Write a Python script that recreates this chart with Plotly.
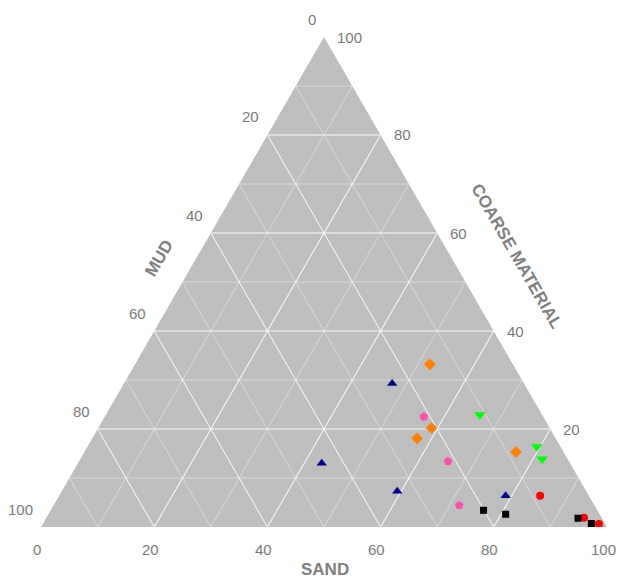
import plotly.graph_objects as go

# ---- data (percent): coarse material (a), mud (b), sand (c) ----
red_coarse = [6.4, 1.9, 0.6]
red_mud = [8.6, 3.1, 1.1]
red_sand = [85.0, 95.0, 98.3]

black_coarse = [3.4, 2.6, 1.8, 0.7]
black_mud = [20.1, 16.6, 4.2, 2.4]
black_sand = [76.5, 80.8, 94.0, 96.9]

navy_coarse = [29.3, 13.0, 7.3, 6.4]
navy_mud = [23.3, 43.9, 33.4, 14.7]
navy_sand = [47.4, 43.1, 59.3, 78.9]

green_coarse = [22.9, 16.4, 13.9]
green_mud = [11.0, 4.2, 4.5]
green_sand = [66.1, 79.4, 81.6]

orange_coarse = [33.2, 20.2, 18.1, 15.3]
orange_mud = [14.7, 20.9, 24.5, 8.4]
orange_sand = [52.1, 58.9, 57.4, 76.3]

pink_coarse = [22.5, 13.4, 4.4]
pink_mud = [21.1, 21.4, 23.9]
pink_sand = [56.4, 65.2, 71.7]

tick_values = [0, 20, 40, 60, 80, 100]
tick_labels = ["0", "20", "40", "60", "80", "100"]
minor_values = [10, 30, 50, 70, 90]

FONT = "Liberation Sans, Arial, sans-serif"
LABEL_COLOR = "#7a7a7a"

fig = go.Figure()

# minor grid lines (every 10, between the major 20s)
for v in minor_values:
    for a, b, c in [([v, v], [100 - v, 0], [0, 100 - v]),
                    ([100 - v, 0], [v, v], [0, 100 - v]),
                    ([100 - v, 0], [0, 100 - v], [v, v])]:
        fig.add_trace(go.Scatterternary(
            a=a, b=b, c=c, mode="lines",
            line=dict(color="rgba(255,255,255,0.5)", width=0.8),
            hoverinfo="skip", showlegend=False))

groups = [
    (red_coarse, red_mud, red_sand, "circle", "#FF0000", 8),
    (black_coarse, black_mud, black_sand, "square", "#000000", 7),
    (navy_coarse, navy_mud, navy_sand, "triangle-up", "#00008B", 9),
    (green_coarse, green_mud, green_sand, "triangle-down", "#00FF00", 10),
    (orange_coarse, orange_mud, orange_sand, "diamond", "#FF7F00", 9),
    (pink_coarse, pink_mud, pink_sand, "pentagon", "#FF4FAE", 9),
]
for a, b, c, sym, col, sz in groups:
    fig.add_trace(go.Scatterternary(
        a=a, b=b, c=c, mode="markers",
        marker=dict(symbol=sym, color=col, size=sz, line=dict(width=0)),
        showlegend=False))

axis_common = dict(
    tickmode="array", tickvals=tick_values,
    showgrid=True, gridcolor="rgba(255,255,255,0.92)", gridwidth=1.4,
    showline=False, ticks="", showticklabels=False, title=dict(text=""),
    min=0,
)

# tick labels placed next to each edge (paper coords of the triangle: BL=(0,0), BR=(1,0), top=(0.5,1))
annotations = []
tfont = dict(family=FONT, size=15, color=LABEL_COLOR)
for v, t in zip(tick_values, tick_labels):
    # MUD on the left edge (0 at top, 100 at bottom-left)
    annotations.append(dict(text=t, x=(100 - v) / 200, y=(100 - v) / 100, xref="paper", yref="paper",
                            xanchor="right", yanchor="middle", xshift=-6, yshift=18,
                            showarrow=False, font=tfont))
    # SAND on the bottom edge (0 at left, 100 at right)
    annotations.append(dict(text=t, x=v / 100, y=0, xref="paper", yref="paper",
                            xanchor="center", yanchor="middle", xshift=-4, yshift=-22,
                            showarrow=False, font=tfont))
    # COARSE MATERIAL on the right edge (0 at bottom-right, 100 at top)
    annotations.append(dict(text=t, x=(100 - v / 2) / 100, y=v / 100, xref="paper", yref="paper",
                            xanchor="left", yanchor="middle", xshift=11, yshift=0,
                            showarrow=False, font=tfont))

title_font = dict(family=FONT, size=17, color="#808080")
annotations += [
    dict(text="<b>SAND</b>", x=0.502, y=-0.087, xref="paper", yref="paper",
         xanchor="center", yanchor="middle", showarrow=False, font=title_font),
    dict(text="<b>MUD</b>", x=0.21, y=0.549, xref="paper", yref="paper", textangle=-60,
         xanchor="center", yanchor="middle", showarrow=False, font=title_font),
    dict(text="<b>COARSE MATERIAL</b>", x=0.841, y=0.553, xref="paper", yref="paper", textangle=60,
         xanchor="center", yanchor="middle", showarrow=False, font=title_font),
]

fig.update_layout(
    width=625, height=582,
    margin=dict(l=33, r=26, t=29, b=62.5),
    paper_bgcolor="white",
    showlegend=False,
    ternary=dict(
        sum=100,
        bgcolor="#BEBEBE",
        aaxis=axis_common,
        baxis=axis_common,
        caxis=axis_common,
    ),
    annotations=annotations,
)

fig.write_html("out.html")
